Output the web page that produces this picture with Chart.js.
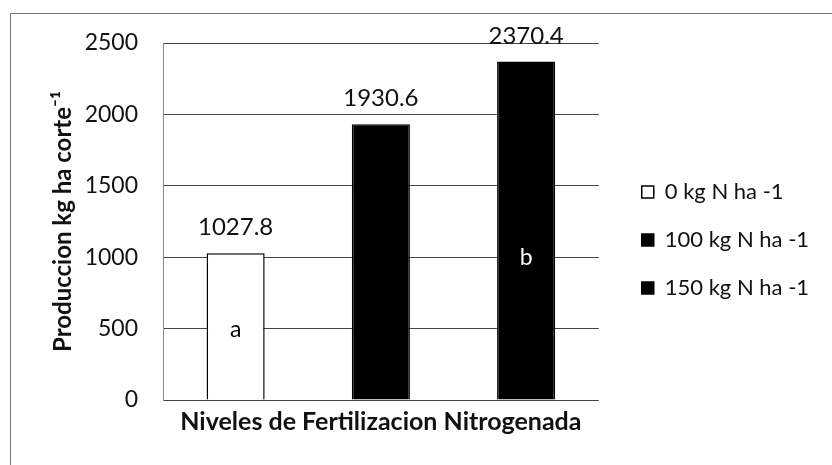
<!DOCTYPE html>
<html>
<head>
<meta charset="utf-8">
<script src="https://cdn.jsdelivr.net/npm/chart.js@4"></script>
<style>
  body { margin: 0; background: #fff; }
  #wrap { position: relative; width: 832px; height: 465px; overflow: hidden; }
  #frame { position: absolute; left: 10px; top: 13px; width: 840px; height: 470px; border: 1px solid #777; }
  canvas { position: absolute; left: 0; top: 0; }
</style>
</head>
<body>
<div id="wrap">
  <div id="frame"></div>
  <canvas id="graph" width="832" height="465"></canvas>
</div>
<script>
// series (one bar each)
const seriesNames = ['0 kg N ha -1', '100 kg N ha -1', '150 kg N ha -1'];
const values = [1027.8, 1930.6, 2370.4];
const fills = ['#ffffff', '#000000', '#000000'];
// significance letters and the level they sit at
const letters = ['a', '', 'b'];
const letterLevels = [490, null, 1000];
const letterColors = ['#000000', '#000000', '#ffffff'];
const yTicks = [0, 500, 1000, 1500, 2000, 2500];

const FONT = 'Lato, "Open Sans", sans-serif';

var datasets = seriesNames.map((name, i) => {
    return {
        label: name,
        data: values.map((v, j) => j === i ? v : null),
        backgroundColor: fills[i],
        borderColor: '#000',
        borderWidth: 1.5,
        barPercentage: 0.40,
        categoryPercentage: 1,
        grouped: false
    };
});

// value labels above the bars and letters inside them
const barText = {
    id: 'barText',
    afterDatasetsDraw: function(chart) {
        const ctx = chart.ctx;
        const y = chart.scales.y;
        ctx.save();
        ctx.textAlign = 'center';
        chart.data.datasets.forEach((ds, i) => {
            const bar = chart.getDatasetMeta(i).data[i];
            ctx.font = '24px ' + FONT;
            ctx.fillStyle = '#111';
            ctx.textBaseline = 'alphabetic';
            ctx.fillText(values[i].toFixed(1), bar.x, bar.y - 18);
            if (letters[i]) {
                ctx.font = '23px ' + FONT;
                ctx.fillStyle = letterColors[i];
                ctx.textBaseline = 'middle';
                ctx.fillText(letters[i], bar.x, y.getPixelForValue(letterLevels[i]));
            }
        });
        ctx.restore();
    }
};

// move the legend a bit away from the plot (and widen its clip box)
const legendShift = {
    id: 'legendShift',
    afterLayout: function(chart) {
        chart.legend.left += 17;
        chart.legend.right = chart.width;
        chart.legend.width = chart.legend.right - chart.legend.left;
    }
};

new Chart(document.getElementById('graph'), {
    type: 'bar',
    data: { labels: ['', '', ''], datasets: datasets },
    plugins: [barText, legendShift],
    options: {
        responsive: false,
        animation: false,
        layout: { padding: { left: 49, top: 43, right: 50, bottom: 28 } },
        plugins: {
            tooltip: { enabled: false },
            legend: {
                position: 'right',
                labels: {
                    color: '#111',
                    font: { family: FONT, size: 22 },
                    boxWidth: 12,
                    boxHeight: 12,
                    padding: 26
                }
            }
        },
        scales: {
            x: {
                grid: { display: false, drawTicks: false },
                border: { display: false },
                ticks: { display: false },
                title: {
                    display: true,
                    text: 'Niveles de Fertilizacion Nitrogenada',
                    color: '#111',
                    font: { family: FONT, size: 25, weight: 'bold' },
                    padding: { top: 7, bottom: 0 }
                }
            },
            y: {
                min: 0,
                max: 2500,
                afterBuildTicks: axis => { axis.ticks = yTicks.map(v => ({ value: v })); },
                afterFit: s => { s.width = 114; },
                grid: { color: '#444', lineWidth: 1, drawTicks: false },
                border: { color: '#888', width: 1 },
                ticks: {
                    color: '#111',
                    padding: 25,
                    font: { family: FONT, size: 23 },
                    callback: v => String(v)
                },
                title: {
                    display: true,
                    text: 'Produccion kg ha corte⁻¹',
                    color: '#111',
                    font: { family: FONT, size: 24, weight: 'bold' },
                    padding: { top: 0, bottom: 6 }
                }
            }
        }
    }
});
</script>
</body>
</html>
